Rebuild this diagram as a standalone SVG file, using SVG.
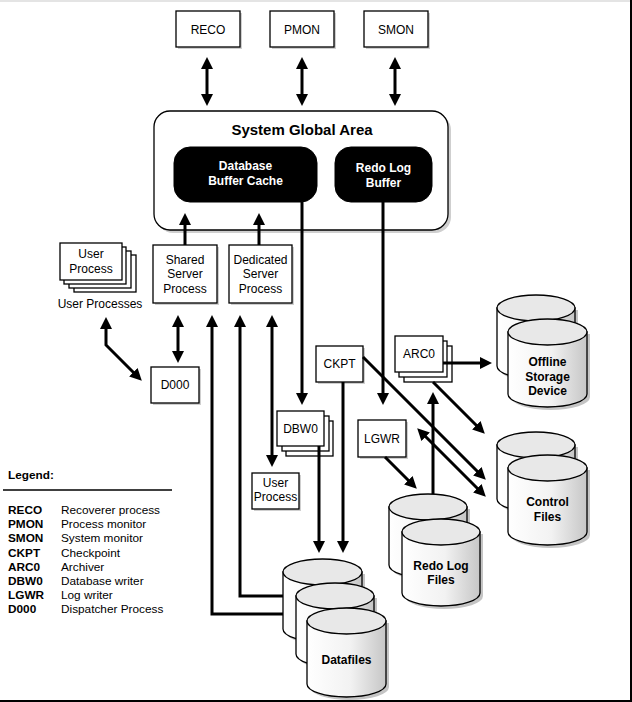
<svg xmlns="http://www.w3.org/2000/svg" width="632" height="702" viewBox="0 0 632 702">
<defs>
<style>
.box{fill:#fff;stroke:#000;stroke-width:1.3}
.sh{fill:#cfcfcf;stroke:none}
.blk{fill:#000;stroke:#000}
.t{font-family:"Liberation Sans",Arial,Helvetica,sans-serif;font-size:12px;text-anchor:middle;fill:#000}
.b{font-weight:bold}
.w{fill:#fff;font-size:12px}
.ct{font-family:"Liberation Sans",Arial,Helvetica,sans-serif;font-size:12px;font-weight:bold;text-anchor:middle;fill:#000}
.lg{font-family:"Liberation Sans",Arial,Helvetica,sans-serif;font-size:11.8px;fill:#000}
.conn path{stroke:#000;stroke-width:3;fill:none}
.cyl{fill:url(#cg);stroke:#000;stroke-width:1.3}
.ctop{fill:#e8e8e8;stroke:#000;stroke-width:1.3}
.csh{fill:#c4c4c4;stroke:none}
</style>
<linearGradient id="cg" x1="0" y1="0" x2="1" y2="0">
<stop offset="0" stop-color="#ffffff"/>
<stop offset="0.55" stop-color="#f2f2f2"/>
<stop offset="1" stop-color="#c6c6c6"/>
</linearGradient>
<marker id="ah" markerWidth="12" markerHeight="12" refX="8" refY="6" orient="auto-start-reverse" markerUnits="userSpaceOnUse" viewBox="0 0 12 12">
<path d="M0,0 L12,6 L0,12 z" fill="#000"/>
</marker>
</defs>
<rect x="0" y="0" width="632" height="702" fill="#fff"/>
<rect x="0" y="0" width="632" height="2" fill="#e4e4e4"/>
<rect x="630" y="0" width="2" height="702" fill="#000"/>
<rect x="0" y="700" width="632" height="2" fill="#000"/>

<g id="reco"><rect class="sh" x="178" y="13" width="64" height="36"/><rect class="box" x="176" y="11" width="64" height="36"/><text class="t" x="208" y="33.5">RECO</text></g>
<g id="pmon"><rect class="sh" x="272" y="13" width="64" height="36"/><rect class="box" x="270" y="11" width="64" height="36"/><text class="t" x="302" y="33.5">PMON</text></g>
<g id="smon"><rect class="sh" x="366" y="13" width="64" height="36"/><rect class="box" x="364" y="11" width="64" height="36"/><text class="t" x="396" y="33.5">SMON</text></g>

<g id="sga">
<rect class="sh" x="157" y="114" width="294" height="119" rx="16"/>
<rect class="box" x="154" y="111" width="294" height="119" rx="16"/>
<text class="t b" x="302" y="135" style="font-size:15px">System Global Area</text>
</g>
<g id="buffer-cache"><rect class="blk" x="174" y="147" width="143" height="55" rx="16"/><text class="t b w" x="245.5" y="170">Database</text><text class="t b w" x="245.5" y="185">Buffer Cache</text></g>
<g id="redo-buffer"><rect class="blk" x="335" y="147" width="97" height="55" rx="16"/><text class="t b w" x="383.5" y="172">Redo Log</text><text class="t b w" x="383.5" y="187">Buffer</text></g>

<g id="user-processes">
<rect class="box" x="74" y="255" width="62" height="37"/>
<rect class="box" x="69" y="251" width="62" height="37"/>
<rect class="box" x="64" y="247" width="62" height="37"/>
<rect class="box" x="60" y="243" width="62" height="37"/>
<text class="t" x="91" y="258">User</text><text class="t" x="91" y="273">Process</text>
<text class="t" x="100" y="308">User Processes</text>
</g>
<g id="shared-server"><rect class="sh" x="155" y="247" width="64" height="58"/><rect class="box" x="153" y="245" width="64" height="58"/><text class="t" x="185" y="264">Shared</text><text class="t" x="185" y="278">Server</text><text class="t" x="185" y="293">Process</text></g>
<g id="dedicated-server"><rect class="sh" x="231" y="247" width="63" height="58"/><rect class="box" x="229" y="245" width="63" height="58"/><text class="t" x="260.5" y="264">Dedicated</text><text class="t" x="260.5" y="278">Server</text><text class="t" x="260.5" y="293">Process</text></g>
<g id="d000"><rect class="sh" x="153" y="369" width="48" height="36"/><rect class="box" x="151" y="367" width="48" height="36"/><text class="t" x="175" y="389">D000</text></g>
<g id="ckpt"><rect class="sh" x="318" y="348" width="47" height="36"/><rect class="box" x="316" y="346" width="47" height="36"/><text class="t" x="339.5" y="368">CKPT</text></g>
<g id="dbw0">
<rect class="box" x="286" y="421" width="47" height="35"/>
<rect class="box" x="282" y="416" width="47" height="35"/>
<rect class="box" x="277" y="411" width="47" height="35"/>
<text class="t" x="300.5" y="433">DBW0</text>
</g>
<g id="user-process"><rect class="sh" x="254" y="475" width="47" height="36"/><rect class="box" x="252" y="473" width="47" height="36"/><text class="t" x="275.5" y="487">User</text><text class="t" x="275.5" y="501">Process</text></g>
<g id="lgwr"><rect class="sh" x="360" y="422" width="48" height="37"/><rect class="box" x="358" y="420" width="48" height="37"/><text class="t" x="382" y="443">LGWR</text></g>
<g id="arc0">
<rect class="box" x="404" y="346" width="48" height="36"/>
<rect class="box" x="399" y="341" width="48" height="36"/>
<rect class="box" x="395" y="336" width="48" height="36"/>
<text class="t" x="419" y="358">ARC0</text>
</g>

<g id="offline-storage">
<path class="csh" d="M500,310 V369 A39,13 0 0 0 578,369 V310 Z"/>
<path class="cyl" d="M497,308 V366 A39,13 0 0 0 575,366 V308 Z"/>
<ellipse class="ctop" cx="536" cy="308" rx="39" ry="13"/>
<path class="csh" d="M511,334 V397 A39.5,13 0 0 0 590,397 V334 Z"/>
<path class="cyl" d="M508,332 V394 A39.5,13 0 0 0 587,394 V332 Z"/>
<ellipse class="ctop" cx="547.5" cy="332" rx="39.5" ry="13"/>
<text class="ct" x="547.5" y="366">Offline</text><text class="ct" x="547.5" y="381">Storage</text><text class="ct" x="547.5" y="395">Device</text>
</g>
<g id="control-files">
<path class="csh" d="M500,447 V502 A39,13 0 0 0 578,502 V447 Z"/>
<path class="cyl" d="M497,445 V499 A39,13 0 0 0 575,499 V445 Z"/>
<ellipse class="ctop" cx="536" cy="445" rx="39" ry="13"/>
<path class="csh" d="M511,470 V535 A39.5,13 0 0 0 590,535 V470 Z"/>
<path class="cyl" d="M508,468 V532 A39.5,13 0 0 0 587,532 V468 Z"/>
<ellipse class="ctop" cx="547.5" cy="468" rx="39.5" ry="13"/>
<text class="ct" x="547.5" y="506">Control</text><text class="ct" x="547.5" y="521">Files</text>
</g>
<g id="redo-log-files">
<path class="csh" d="M392,509 V568 A39,13 0 0 0 470,568 V509 Z"/>
<path class="cyl" d="M389,507 V565 A39,13 0 0 0 467,565 V507 Z"/>
<ellipse class="ctop" cx="428" cy="507" rx="39" ry="13"/>
<path class="csh" d="M405,534 V596 A39,13 0 0 0 483,596 V534 Z"/>
<path class="cyl" d="M402,532 V593 A39,13 0 0 0 480,593 V532 Z"/>
<ellipse class="ctop" cx="441" cy="532" rx="39" ry="13"/>
<text class="ct" x="441" y="570">Redo Log</text><text class="ct" x="441" y="584">Files</text>
</g>
<g id="datafiles">
<path class="csh" d="M286,574 V632 A39.5,13 0 0 0 365,632 V574 Z"/>
<path class="cyl" d="M283,572 V629 A39.5,13 0 0 0 362,629 V572 Z"/>
<ellipse class="ctop" cx="322.5" cy="572" rx="39.5" ry="13"/>
<path class="csh" d="M299,598 V657 A39,13 0 0 0 377,657 V598 Z"/>
<path class="cyl" d="M296,596 V654 A39,13 0 0 0 374,654 V596 Z"/>
<ellipse class="ctop" cx="335" cy="596" rx="39" ry="13"/>
<path class="csh" d="M310,623 V687 A39.5,13 0 0 0 389,687 V623 Z"/>
<path class="cyl" d="M307,621 V684 A39.5,13 0 0 0 386,684 V621 Z"/>
<ellipse class="ctop" cx="346.5" cy="621" rx="39.5" ry="13"/>
<text class="ct" x="346.5" y="664">Datafiles</text>
</g>

<g id="connectors" class="conn">
<path d="M207,61 V102" marker-start="url(#ah)" marker-end="url(#ah)"/>
<path d="M302,61 V102" marker-start="url(#ah)" marker-end="url(#ah)"/>
<path d="M395,61 V102" marker-start="url(#ah)" marker-end="url(#ah)"/>
<path d="M185,245 V217" marker-end="url(#ah)"/>
<path d="M259,245 V217" marker-end="url(#ah)"/>
<path d="M302,202 V401" marker-end="url(#ah)"/>
<path d="M383,202 V401" marker-end="url(#ah)"/>
<path d="M106,321 V345 L139,378" marker-start="url(#ah)" marker-end="url(#ah)"/>
<path d="M178,319 V359" marker-start="url(#ah)" marker-end="url(#ah)"/>
<path d="M283,614 H212 V319" marker-end="url(#ah)"/>
<path d="M283,596 H240 V319" marker-end="url(#ah)"/>
<path d="M272,319 V463" marker-start="url(#ah)" marker-end="url(#ah)"/>
<path d="M319,446 V549" marker-end="url(#ah)"/>
<path d="M343,382 V549" marker-end="url(#ah)"/>
<path d="M363,357 L483,477" marker-end="url(#ah)"/>
<path d="M433,382 L482,431" marker-end="url(#ah)"/>
<path d="M420,431 L483,494" marker-start="url(#ah)" marker-end="url(#ah)"/>
<path d="M385,457 L414,486" marker-end="url(#ah)"/>
<path d="M433,494 V396" marker-end="url(#ah)"/>
<path d="M443,363 H488" marker-end="url(#ah)"/>
</g>

<g id="legend">
<text class="lg b" x="8" y="479">Legend:</text>
<path d="M3,490 H172" stroke="#000" stroke-width="1.5"/>
<text class="lg b" x="8" y="514">RECO</text><text class="lg" x="61" y="514">Recoverer process</text>
<text class="lg b" x="8" y="528">PMON</text><text class="lg" x="61" y="528">Process monitor</text>
<text class="lg b" x="8" y="542">SMON</text><text class="lg" x="61" y="542">System monitor</text>
<text class="lg b" x="8" y="557">CKPT</text><text class="lg" x="61" y="557">Checkpoint</text>
<text class="lg b" x="8" y="571">ARC0</text><text class="lg" x="61" y="571">Archiver</text>
<text class="lg b" x="8" y="585">DBW0</text><text class="lg" x="61" y="585">Database writer</text>
<text class="lg b" x="8" y="599">LGWR</text><text class="lg" x="61" y="599">Log writer</text>
<text class="lg b" x="8" y="613">D000</text><text class="lg" x="61" y="613">Dispatcher Process</text>
</g>
</svg>
